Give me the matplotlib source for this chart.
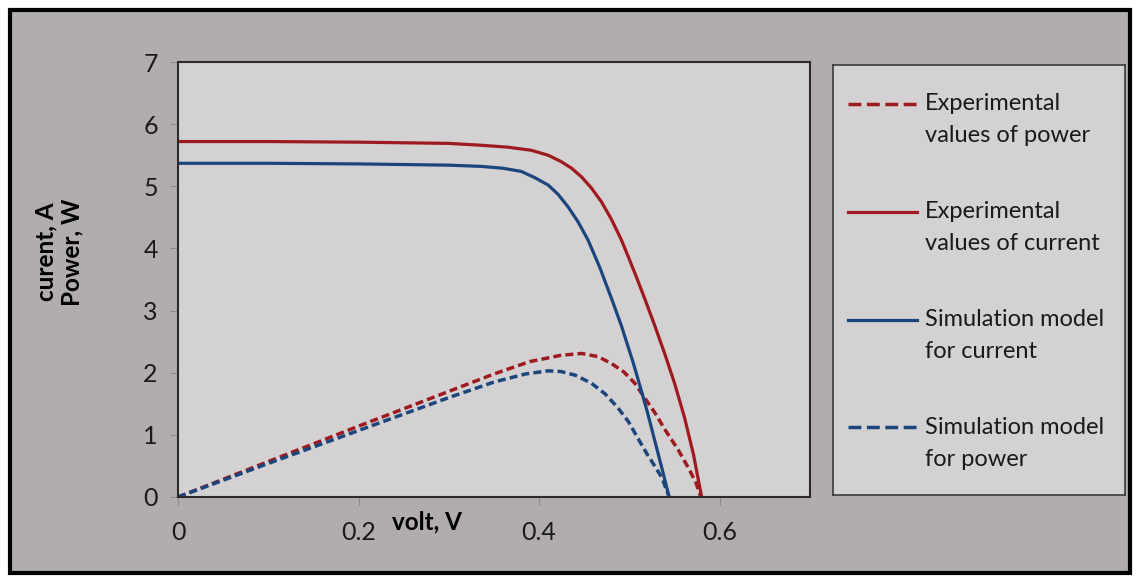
import matplotlib.pyplot as plt
from matplotlib.patches import Rectangle
from matplotlib.lines import Line2D

exp_volt_i = [0, 0.1, 0.2, 0.3, 0.336, 0.365, 0.391, 0.41, 0.424, 0.436, 0.447, 0.458,
              0.469, 0.48, 0.491, 0.5, 0.508, 0.517, 0.528, 0.539, 0.55, 0.561, 0.571, 0.58]
exp_current = [5.72, 5.72, 5.71, 5.69, 5.66, 5.63, 5.58, 5.50, 5.40, 5.29, 5.15, 4.97,
               4.75, 4.47, 4.14, 3.82, 3.53, 3.19, 2.76, 2.31, 1.83, 1.28, 0.68, 0.0]
exp_volt_p = [0, 0.1, 0.2, 0.3, 0.35, 0.39, 0.424, 0.447, 0.465, 0.48, 0.494, 0.506,
              0.519, 0.528, 0.54, 0.554, 0.566, 0.574, 0.579]
exp_power = [0.0, 0.57, 1.14, 1.70, 1.98, 2.18, 2.28, 2.31, 2.26, 2.15, 2.01, 1.83,
             1.55, 1.36, 1.07, 0.76, 0.45, 0.22, 0.0]

# simulation model
sim_volt_i = [0, 0.1, 0.2, 0.3, 0.336, 0.36, 0.38, 0.395, 0.41, 0.421, 0.432, 0.443,
              0.454, 0.467, 0.48, 0.491, 0.504, 0.513, 0.52, 0.528, 0.536, 0.544]
sim_current = [5.37, 5.37, 5.36, 5.34, 5.32, 5.29, 5.24, 5.14, 5.02, 4.87, 4.67, 4.43,
               4.14, 3.70, 3.20, 2.76, 2.17, 1.72, 1.36, 0.91, 0.46, 0.0]
sim_volt_p = [0, 0.1, 0.2, 0.3, 0.35, 0.385, 0.41, 0.424, 0.44, 0.458, 0.473, 0.487,
              0.499, 0.51, 0.52, 0.528, 0.536, 0.544]
sim_power = [0.0, 0.54, 1.07, 1.60, 1.85, 1.98, 2.03, 2.02, 1.96, 1.83, 1.66, 1.44,
             1.21, 0.93, 0.68, 0.50, 0.31, 0.0]

x_ticks = [0, 0.2, 0.4, 0.6]
x_tick_labels = ["0", "0.2", "0.4", "0.6"]
y_ticks = [0, 1, 2, 3, 4, 5, 6, 7]

RED = "#9E1A1F"
BLUE = "#1A467D"
OUTER_BG = "#B1ADAC"
PLOT_BG = "#D3D1D2"
FONT = "Lato"
W, H = 1136, 577

fig = plt.figure(figsize=(W / 100, H / 100), dpi=100, facecolor="white")

# grey chart area with black frame
fig.patches.append(Rectangle((10 / W, 4 / H), 1120 / W, 563 / H, transform=fig.transFigure,
                             facecolor=OUTER_BG, edgecolor="black", linewidth=3, zorder=-10))

ax = fig.add_axes([178 / W, (H - 497) / H, 632 / W, 435 / H])
ax.set_facecolor(PLOT_BG)

dash = (2.3, 1.2)
ax.plot(exp_volt_p, exp_power, color=RED, lw=2.5, dashes=dash, label="Experimental\nvalues of power")
ax.plot(exp_volt_i, exp_current, color=RED, lw=2.3, label="Experimental\nvalues of current")
ax.plot(sim_volt_i, sim_current, color=BLUE, lw=2.3, label="Simulation model\nfor current")
ax.plot(sim_volt_p, sim_power, color=BLUE, lw=2.5, dashes=dash, label="Simulation model\nfor power")

ax.set_xlim(0, 0.7)
ax.set_ylim(0, 7)
ax.set_xticks(x_ticks)
ax.set_xticklabels(x_tick_labels)
ax.set_yticks(y_ticks)
ax.tick_params(direction="out", length=5.5, color="#8A8A8A", labelsize=18,
               labelcolor="#1A1A1A")
ax.tick_params(axis="x", pad=12)
ax.tick_params(axis="y", pad=9)
for lab in ax.get_xticklabels() + ax.get_yticklabels():
    lab.set_fontfamily(FONT)
for s in ax.spines.values():
    s.set_color("#2A2A2A")
    s.set_linewidth(1.5)

fig.text(427 / W, (H - 522) / H, "volt, V", ha="center", va="center",
         fontsize=17.5, fontweight="bold", family=FONT)
fig.text(59 / W, (H - 252) / H, "curent, A\nPower, W", ha="center", va="center",
         rotation=90, fontsize=17.5, fontweight="bold", family=FONT, linespacing=1.2)

# legend box drawn in pixel coordinates
lg = fig.add_axes([833 / W, (H - 495) / H, 292 / W, 430 / H])
lg.set_xlim(833, 1125)
lg.set_ylim(495, 65)
lg.set_facecolor(PLOT_BG)
lg.set_xticks([])
lg.set_yticks([])
for s in lg.spines.values():
    s.set_color("#3A3A3A")
    s.set_linewidth(1.2)

entry_y = [104, 212, 320, 427]
for line, y in zip(ax.get_lines(), entry_y):
    lg.add_line(Line2D([848, 917], [y, y], color=line.get_color(), lw=line.get_linewidth(),
                       linestyle=line.get_linestyle()))
    first, second = line.get_label().split("\n")
    lg.text(925, y, first, va="center", ha="left", fontsize=17, family=FONT, color="#1A1A1A")
    lg.text(925, y + 32, second, va="center", ha="left", fontsize=17, family=FONT, color="#1A1A1A")

fig.savefig("out.png", dpi=100, facecolor="white")
